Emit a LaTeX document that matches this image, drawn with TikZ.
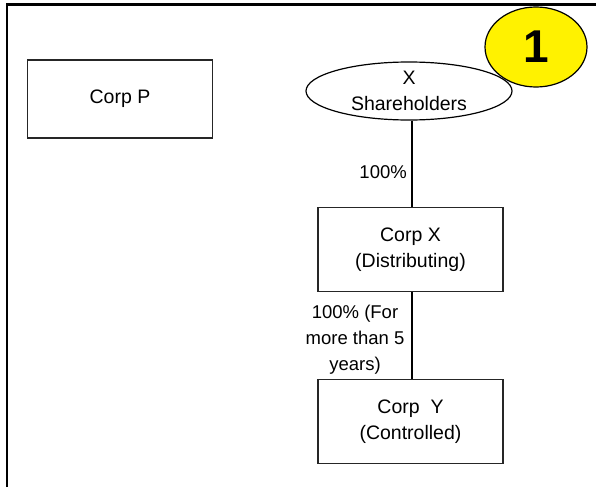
\documentclass[tikz,border=0pt]{standalone}
\usepackage{fontspec}
\setmainfont{Liberation Sans}
\usetikzlibrary{shapes.geometric}
\begin{document}
\begin{tikzpicture}[x=1pt,y=-1pt,
  box/.style={draw=black!85,line width=1.3pt,minimum width=185pt,minimum height=84pt,align=center,inner sep=0pt},
  lbl/.style={font=\fontsize{18.5}{26}\selectfont,align=center,inner sep=0pt},
  txt/.style={font=\fontsize{19.5}{25.5}\selectfont}]
\useasboundingbox (0,0) rectangle (596,487);
\draw[line width=2.2pt] (7,487) -- (7,4.5) -- (596,4.5);
\node[box,txt,minimum height=78pt] (p) at (120,99) {Corp P};
\node[draw=black,line width=1.2pt,ellipse,minimum width=206pt,minimum height=58pt,inner sep=0pt,align=center,txt] (sh) at (409,91) {X\\Shareholders};
\node[draw=black,line width=1.2pt,fill=yellow,ellipse,minimum width=102pt,minimum height=80pt,inner sep=0pt,font=\fontsize{46}{46}\selectfont\bfseries] (one) at (536,47) {1};
\node[box,txt] (x) at (410.5,249.5) {Corp X\\(Distributing)};
\node[box,txt] (y) at (410.5,421.5) {Corp\ \ Y\\(Controlled)};
\draw[line width=1.2pt] (sh.south -| x.north) ++(1.5,0) -- ([xshift=1.5pt]x.north);
\draw[line width=1.2pt] ([xshift=1.5pt]x.south) -- ([xshift=1.5pt]y.north);
\node[lbl,anchor=east] (l1) at (407,172) {100\%};
\node[lbl] (l2) at (355,340) {100\% (For\\more than 5\\years)};
\end{tikzpicture}
\end{document}
